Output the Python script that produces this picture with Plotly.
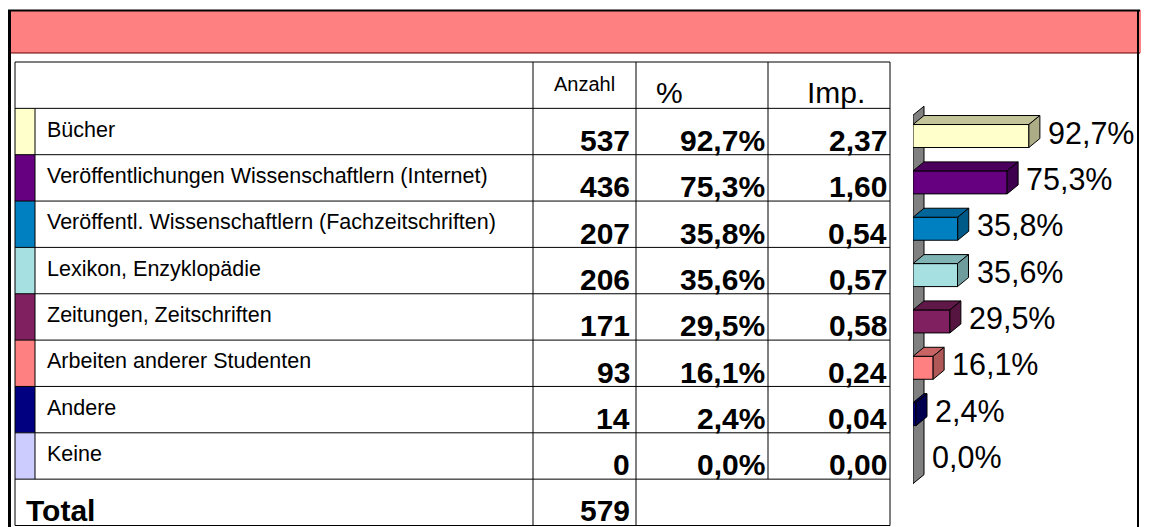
import plotly.graph_objects as go

# ---------------- data ----------------
categories = [
    "Bücher",
    "Veröffentlichungen Wissenschaftlern (Internet)",
    "Veröffentl. Wissenschaftlern (Fachzeitschriften)",
    "Lexikon, Enzyklopädie",
    "Zeitungen, Zeitschriften",
    "Arbeiten anderer Studenten",
    "Andere",
    "Keine",
]
anzahl = [537, 436, 207, 206, 171, 93, 14, 0]
prozent = [92.7, 75.3, 35.8, 35.6, 29.5, 16.1, 2.4, 0.0]
imp = [2.37, 1.60, 0.54, 0.57, 0.58, 0.24, 0.04, 0.00]
total_label = "Total"
total_anzahl = 579
header_labels = ["Anzahl", "%", "Imp."]

front_colors = ["#FFFFCC", "#660080", "#0080C0", "#A6E0E0", "#802060", "#FF8080", "#000080", "#CCCCFF"]
top_colors = ["#C4C49A", "#4A005C", "#006699", "#80B4B4", "#601848", "#C86464", "#000060", "#9999C0"]
side_colors = ["#ACAC86", "#3E004E", "#005A88", "#6E9C9C", "#561440", "#B05858", "#000050", "#8888B0"]

# ---------------- layout constants ----------------
W, H = 1151, 527
ROW_TOP = 62.0      # top of header row (px)
ROW_H = 46.35       # row height (px)
COL_SW_L, COL_SW_R = 15, 35
COL_LABEL_R, COL_ANZ_R, COL_PCT_R, COL_IMP_R = 533, 636, 768, 890

BAR_X0 = 913        # px where 0 % sits
PX_PER_PCT = 1.25
DEPTH_X = 11        # px
DEPTH_Y = 9         # px
BAR_H = 23          # px
BAR_OFF = 4.5       # px shift of bar front relative to row centre

FONT = "Arial, Liberation Sans, sans-serif"


def de(v, nd):
    return f"{v:.{nd}f}".replace(".", ",")


def row_y(py, off=0.0):
    return (py - ROW_TOP - off) / ROW_H - 1.5


y_range = [row_y(H), row_y(0)]
y2_range = [row_y(H, BAR_OFF), row_y(0, BAR_OFF)]
x2_range = [0, (W - BAR_X0) / PX_PER_PCT]

dxp = DEPTH_X / PX_PER_PCT
dyr = DEPTH_Y / ROW_H
bw = BAR_H / ROW_H
n = len(categories)

fig = go.Figure()

shapes = []
# back wall (beneath the bars)
shapes.append(dict(
    type="path", xref="x2", yref="y2", layer="below",
    path=(f"M 0,{-0.45} L {dxp},{-0.45 - dyr} L {dxp},{n - 0.5 - dyr} "
          f"L 0,{n - 0.5} Z"),
    fillcolor="#808080", line=dict(color="#000000", width=1),
))

# ---------------- 3D bar chart ----------------
fig.add_trace(go.Bar(
    x=prozent, y=list(range(n)), orientation="h", width=bw,
    marker=dict(color=front_colors,
                line=dict(color="#000000", width=[1 if v > 0 else 0 for v in prozent])),
    xaxis="x2", yaxis="y2", hoverinfo="skip", showlegend=False,
))

for i in range(n):
    v = prozent[i]
    if v <= 0:
        continue
    top = i - bw / 2
    bot = i + bw / 2
    # top face
    fig.add_trace(go.Scatter(
        x=[0, v, v + dxp, dxp, 0],
        y=[top, top, top - dyr, top - dyr, top],
        mode="lines", fill="toself", fillcolor=top_colors[i],
        line=dict(color="#000000", width=1),
        xaxis="x2", yaxis="y2", hoverinfo="skip", showlegend=False,
    ))
    # side face
    fig.add_trace(go.Scatter(
        x=[v, v + dxp, v + dxp, v, v],
        y=[top, top - dyr, bot - dyr, bot, top],
        mode="lines", fill="toself", fillcolor=side_colors[i],
        line=dict(color="#000000", width=1),
        xaxis="x2", yaxis="y2", hoverinfo="skip", showlegend=False,
    ))

annotations = []
for i, v in enumerate(prozent):
    annotations.append(dict(
        x=v + dxp, y=i, xref="x2", yref="y", xanchor="left", yanchor="middle",
        xshift=6, yshift=-1, text=de(v, 1) + "%", showarrow=False,
        font=dict(family=FONT, size=30.5, color="#000000"),
    ))

# ---------------- table ----------------


def px(xp):
    return xp / W


def py(yp):
    return 1 - yp / H


# red title band and frame (paper coords)
shapes.append(dict(type="rect", xref="paper", yref="paper",
                   x0=px(9), x1=px(1141), y0=py(53), y1=py(10),
                   fillcolor="#FF8080", line=dict(width=0), layer="below"))
shapes.append(dict(type="line", xref="paper", yref="paper",
                   x0=px(9), x1=px(1140), y0=py(53), y1=py(53),
                   line=dict(color="#600000", width=1)))
shapes.append(dict(type="line", xref="paper", yref="paper",
                   x0=px(8), x1=px(1140), y0=py(10.5), y1=py(10.5),
                   line=dict(color="#000000", width=2)))
shapes.append(dict(type="line", xref="paper", yref="paper",
                   x0=px(9.5), x1=px(9.5), y0=py(10), y1=py(H),
                   line=dict(color="#000000", width=3)))
shapes.append(dict(type="line", xref="paper", yref="paper",
                   x0=px(1138), x1=px(1138), y0=py(10), y1=py(H),
                   line=dict(color="#000000", width=2)))

# swatches
for i, c in enumerate(front_colors):
    shapes.append(dict(type="rect", xref="x", yref="y",
                       x0=COL_SW_L, x1=COL_SW_R, y0=i - 0.5, y1=i + 0.5,
                       fillcolor=c, line=dict(width=0), layer="below"))

line_style = dict(color="#000000", width=1)
top_y = -1.5
bottom_y = n + 0.5
# horizontal lines
for k in range(-1, n + 2):
    yv = k - 0.5
    shapes.append(dict(type="line", xref="x", yref="y",
                       x0=COL_SW_L, x1=COL_IMP_R, y0=yv, y1=yv, line=line_style))
# vertical lines
shapes.append(dict(type="line", xref="x", yref="y", x0=COL_SW_L, x1=COL_SW_L,
                   y0=top_y, y1=bottom_y, line=line_style))
shapes.append(dict(type="line", xref="x", yref="y", x0=COL_SW_R, x1=COL_SW_R,
                   y0=-0.5, y1=n - 0.5, line=line_style))
for xv in (COL_LABEL_R, COL_ANZ_R, COL_IMP_R):
    shapes.append(dict(type="line", xref="x", yref="y", x0=xv, x1=xv,
                       y0=top_y, y1=bottom_y, line=line_style))
shapes.append(dict(type="line", xref="x", yref="y", x0=COL_PCT_R, x1=COL_PCT_R,
                   y0=top_y, y1=n - 0.5, line=line_style))

# header
annotations.append(dict(x=(COL_LABEL_R + COL_ANZ_R) / 2, y=-1, xref="x", yref="y",
                        xanchor="center", yanchor="middle", yshift=1,
                        text=header_labels[0], showarrow=False,
                        font=dict(family=FONT, size=20, color="#000000")))
annotations.append(dict(x=COL_ANZ_R + 18, y=-1, xref="x", yref="y",
                        xanchor="left", yanchor="middle", yshift=-7,
                        text=header_labels[1], showarrow=False,
                        font=dict(family=FONT, size=30, color="#000000")))
annotations.append(dict(x=COL_PCT_R + 37, y=-1, xref="x", yref="y",
                        xanchor="left", yanchor="middle", yshift=-7,
                        text=header_labels[2], showarrow=False,
                        font=dict(family=FONT, size=30, color="#000000")))

bold = dict(family=FONT, size=30, color="#000000", weight="bold")
for i in range(n):
    annotations.append(dict(x=COL_SW_R + 10, y=i, xref="x", yref="y",
                            xanchor="left", yanchor="middle", yshift=2,
                            text=categories[i], showarrow=False,
                            font=dict(family=FONT, size=21.5, color="#000000")))
    for xr, txt in ((COL_ANZ_R - 4, str(anzahl[i])),
                    (COL_PCT_R - 1, de(prozent[i], 1) + "%"),
                    (COL_IMP_R - 1, de(imp[i], 2))):
        annotations.append(dict(x=xr, y=i, xref="x", yref="y",
                                xanchor="right", yanchor="middle", yshift=-9,
                                text="<b>" + txt + "</b>", showarrow=False, font=bold))

annotations.append(dict(x=COL_SW_L + 9, y=n, xref="x", yref="y",
                        xanchor="left", yanchor="middle", yshift=-8,
                        text="<b>" + total_label + "</b>", showarrow=False, font=bold))
annotations.append(dict(x=COL_ANZ_R - 4, y=n, xref="x", yref="y",
                        xanchor="right", yanchor="middle", yshift=-8,
                        text="<b>" + str(total_anzahl) + "</b>", showarrow=False, font=bold))

fig.update_layout(
    width=W, height=H, autosize=False,
    margin=dict(l=0, r=0, t=0, b=0, pad=0),
    paper_bgcolor="#FFFFFF", plot_bgcolor="rgba(0,0,0,0)",
    showlegend=False, barmode="overlay",
    xaxis=dict(domain=[0, 1], range=[0, W], visible=False, fixedrange=True),
    yaxis=dict(domain=[0, 1], range=y_range, visible=False, fixedrange=True),
    xaxis2=dict(domain=[BAR_X0 / W, 1], range=x2_range, visible=False,
                anchor="y2", fixedrange=True),
    yaxis2=dict(domain=[0, 1], range=y2_range, visible=False, anchor="x2",
                overlaying="y", fixedrange=True),
    shapes=shapes, annotations=annotations,
)

fig.write_html(
    "out.html",
    config={"displayModeBar": False},
    post_script="document.body.style.margin='0px';document.body.style.overflow='hidden';",
)
